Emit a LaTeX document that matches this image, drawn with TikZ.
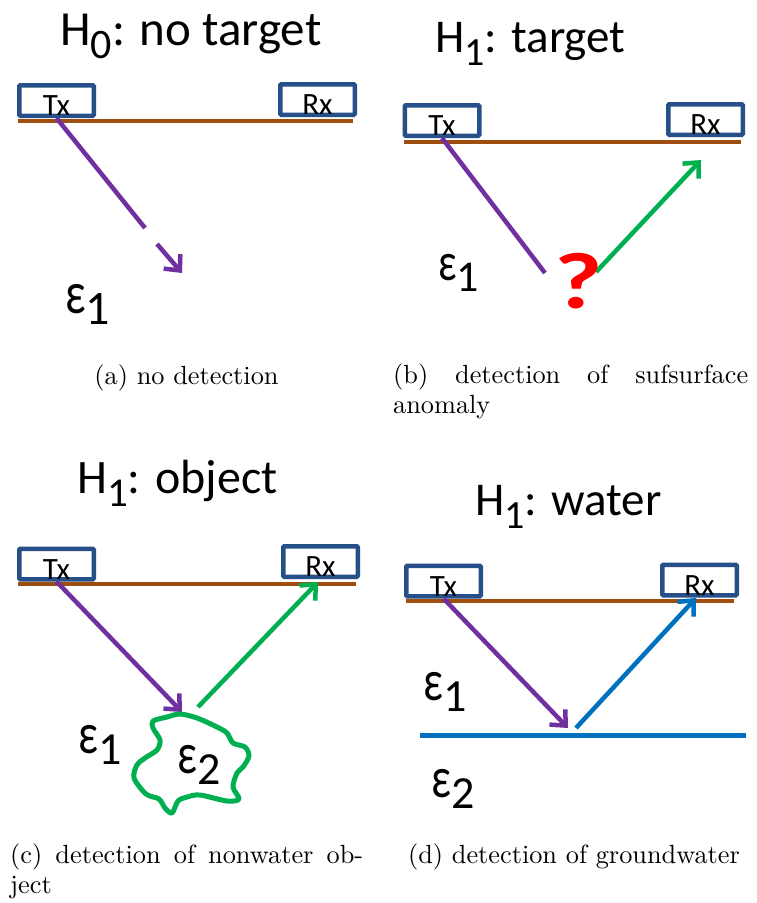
\documentclass[tikz,border=0pt]{standalone}
\usepackage{fontspec}
\newfontfamily\calfont{Carlito}
\newfontfamily\capfont{lmroman10-regular.otf}
\usetikzlibrary{arrows.meta}
\definecolor{boxblue}{RGB}{38,80,135}
\definecolor{groundc}{RGB}{158,78,14}
\definecolor{purp}{RGB}{112,48,160}
\definecolor{grn}{RGB}{0,176,80}
\definecolor{wblue}{RGB}{0,112,192}
\newcommand{\Hsub}[2]{H\raisebox{-13pt}{\fontsize{#1}{#1}\selectfont #2}}
\newcommand{\epslab}[3]{{\fontsize{#1}{#1}\selectfont \scalebox{0.75}[1]{ε}\raisebox{-11pt}{\fontsize{#2}{#2}\selectfont #3}}}
\begin{document}
\begin{tikzpicture}[x=1pt,y=-1pt,
  unitbox/.style={draw=boxblue, line width=4.5pt, fill=white, minimum width=74.5pt, minimum height=30.5pt, inner sep=0pt, rounded corners=1pt},
  lbl/.style={font=\calfont\fontsize{31}{31}\selectfont, inner sep=0pt, anchor=base, yshift=2.5pt},
  ttl/.style={font=\calfont\fontsize{49}{49}\selectfont, inner sep=0pt, anchor=base west},
  epsl/.style={font=\calfont, inner sep=0pt, anchor=base west},
  gline/.style={draw=groundc, line width=4.5pt},
  ray/.style={line width=4.5pt},
  headed/.style={-{Straight Barb[length=12pt,width=22pt]}},
  capt/.style={font=\capfont\fontsize{26.3}{30}\selectfont, inner sep=0pt}
]
\useasboundingbox (0,0) rectangle (756,903);

% ---------------- panel (a)
\node[ttl] (ta) at (60,45) {\Hsub{42}{0}: no target};
\draw[gline] (18,121) -- (353,121);
\node[unitbox] (txa) at (56.5,100.5) {};
\node[unitbox] (rxa) at (317.5,99.5) {};
\node[lbl] (txta) at (txa.south) {Tx};
\node[lbl] (rxta) at (rxa.south) {Rx};
\coordinate (a1) at (145,228);
\coordinate (a2) at (157,244);
\coordinate (a3) at (182,273);
\draw[ray,purp] (txa.south) -- (a1);
\draw[ray,purp,headed] (a2) -- (a3);
\node[epsl] (ea) at (65,313) {\epslab{60}{48}{1}};

% ---------------- panel (b)
\node[ttl, font=\calfont\fontsize{47}{47}\selectfont] (tb) at (435,52) {\Hsub{40}{1}: target};
\draw[gline] (404,142) -- (741,142);
\node[unitbox] (txb) at (442,120.5) {};
\node[unitbox] (rxb) at (705.5,119.5) {};
\node[lbl] (txtb) at (txb.south) {Tx};
\node[lbl] (rxtb) at (rxb.south) {Rx};
\coordinate (b1) at (545,273);
\coordinate (b2) at (596,272);
\coordinate (b3) at (701,160);
\draw[ray,purp] (txb.south) -- (b1);
\draw[ray,grn,headed] (b2) -- (b3);
\node[inner sep=0pt, anchor=base west, text=red, font=\calfont\bfseries\fontsize{80}{80}\selectfont] (qb) at (554,308) {\scalebox{1.3}[1]{?}};
\node[epsl] (eb) at (438,280) {\epslab{54}{44}{1}};

% ---------------- panel (c)
\node[ttl, font=\calfont\fontsize{48}{48}\selectfont] (tc) at (77,493) {\Hsub{41}{1}: object};
\draw[gline] (18,584) -- (356,584);
\node[unitbox] (txc) at (56.5,564) {};
\node[unitbox] (rxc) at (320.5,561.5) {};
\node[lbl] (txtc) at (txc.south) {Tx};
\node[lbl] (rxtc) at (rxc.south) {Rx};
\coordinate (c1) at (182,712);
\coordinate (c2) at (198,707);
\coordinate (c3) at (318,582);
\draw[ray,purp,headed] (txc.south) -- (c1);
\draw[ray,grn,headed] (c2) -- (c3);
\draw[grn, line width=5pt, line join=round] plot[smooth cycle, tension=0.5] coordinates {
  (180,714) (197,718) (217,727) (227,733) (233,743) (245,747) (249,756)
  (243,767) (237,773) (233,787) (239,799) (227,801) (200,795) (187,797)
  (178,801) (172,813) (165,808) (159,799) (146,794) (134,778) (137,765)
  (145,758) (157,750) (160,740) (153,728) (153,721) (167,717)};
\node[epsl] (ec1) at (78,753) {\epslab{58}{46}{1}};
\node[epsl] (ec2) at (177,773) {\epslab{58}{46}{2}};

% ---------------- panel (d)
\node[ttl, font=\calfont\fontsize{47}{47}\selectfont] (td) at (475,515) {\Hsub{40}{1}: water};
\draw[gline] (406,601) -- (734,601);
\node[unitbox] (txd) at (443.5,581) {};
\node[unitbox] (rxd) at (699.5,580) {};
\node[lbl] (txtd) at (txd.south) {Tx};
\node[lbl] (rxtd) at (rxd.south) {Rx};
\coordinate (d1) at (568,728);
\coordinate (d2) at (576,728);
\coordinate (d3) at (696,598);
\coordinate (w1) at (420,735);
\coordinate (w2) at (746,735);
\draw[wblue, line width=5pt] (w1) -- (w2);
\draw[ray,purp,headed] (txd.south) -- (d1);
\draw[ray,wblue,headed] (d2) -- (d3);
\node[epsl] (ed1) at (423,700) {\epslab{58}{46}{1}};
\node[epsl] (ed2) at (431,797) {\epslab{58}{46}{2}};

% ---------------- captions
\node[capt, anchor=base] (capa) at (186.5,384) {(a) no detection};
\node[capt, anchor=base west] (capb) at (393,383) {\vtop{\hbox{\makebox[355pt][s]{(b) detection of sufsurface}}\hbox{anomaly}}};
\node[capt, anchor=base west] (capc) at (10,863) {\vtop{\hbox{\makebox[353pt][s]{(c) detection of nonwater ob-}}\hbox{ject}}};
\node[capt, anchor=base] (capd) at (574,863) {(d) detection of groundwater};
\end{tikzpicture}
\end{document}
